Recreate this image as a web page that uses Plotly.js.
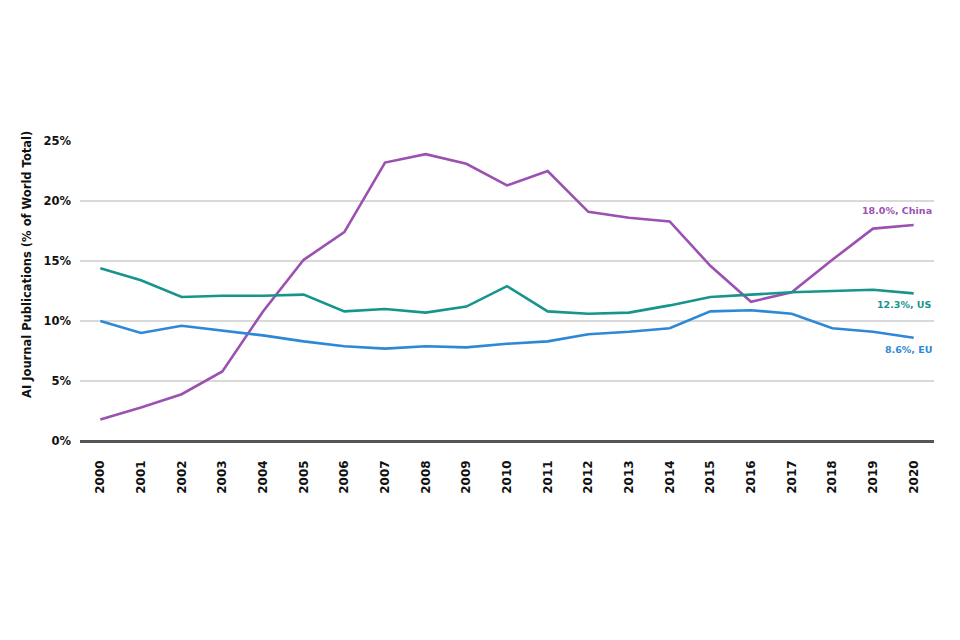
<!DOCTYPE html>
<html>
<head>
<meta charset="utf-8">
<script src="https://cdn.plot.ly/plotly-3.0.1.min.js"></script>
<style>html,body{margin:0;padding:0;background:#fff;}#chart{width:960px;height:640px;}</style>
</head>
<body>
<div id="chart"></div>
<script>
const years = ['2000','2001','2002','2003','2004','2005','2006','2007','2008','2009','2010','2011','2012','2013','2014','2015','2016','2017','2018','2019','2020'];
const china = [1.8, 2.8, 3.9, 5.8, 10.8, 15.1, 17.4, 23.2, 23.9, 23.1, 21.3, 22.5, 19.1, 18.6, 18.3, 14.6, 11.6, 12.4, 15.1, 17.7, 18.0];
const us    = [14.4, 13.4, 12.0, 12.1, 12.1, 12.2, 10.8, 11.0, 10.7, 11.2, 12.9, 10.8, 10.6, 10.7, 11.3, 12.0, 12.2, 12.4, 12.5, 12.6, 12.3];
const eu    = [10.0, 9.0, 9.6, 9.2, 8.8, 8.3, 7.9, 7.7, 7.9, 7.8, 8.1, 8.3, 8.9, 9.1, 9.4, 10.8, 10.9, 10.6, 9.4, 9.1, 8.6];
const yTicks = [0, 5, 10, 15, 20, 25];
const yTickText = ['0%', '5%', '10%', '15%', '20%', '25%'];
const yTitle = 'AI Journal Publications (% of World Total)';
const endLabels = ['18.0%, China', '12.3%, US', '8.6%, EU'];

const cChina = '#9c50b2', cUS = '#17958d', cEU = '#2d88d6';
const font = '"DejaVu Sans", Verdana, sans-serif';

const traces = [
  {x: years, y: china, type: 'scatter', mode: 'lines', line: {color: cChina, width: 2.6}, name: 'China'},
  {x: years, y: us, type: 'scatter', mode: 'lines', line: {color: cUS, width: 2.6}, name: 'US'},
  {x: years, y: eu, type: 'scatter', mode: 'lines', line: {color: cEU, width: 2.6}, name: 'EU'}
];

const layout = {
  width: 960, height: 640,
  margin: {l: 80, r: 26, t: 141, b: 199},
  paper_bgcolor: '#fff', plot_bgcolor: '#fff',
  showlegend: false,
  font: {family: font, color: '#222'},
  xaxis: {
    type: 'category', range: [-0.5, 20.5],
    tickangle: -90, showgrid: false, zeroline: false,
    showline: false, ticks: '',
    tickfont: {size: 12, color: '#111', family: font, weight: 'bold'},
    ticklabelstandoff: 16
  },
  yaxis: {
    range: [0, 25], tickvals: yTicks, ticktext: yTickText,
    showgrid: true, gridcolor: '#d9d9d9', gridwidth: 1.5,
    zeroline: true, zerolinecolor: '#555', zerolinewidth: 3,
    showline: false, ticks: '',
    tickfont: {size: 11.5, color: '#111', family: font, weight: 'bold'},
    ticklabelstandoff: 8
  },
  annotations: [
    {x: -0.062, xref: 'paper', y: 0.587, yref: 'paper', text: yTitle, textangle: -90, showarrow: false, xanchor: 'center', yanchor: 'middle', font: {size: 11.5, color: '#111', family: font, weight: 'bold'}},
    {x: 1, xref: 'paper', y: china[20] + 1.2, yref: 'y', text: endLabels[0], showarrow: false, xanchor: 'right', yanchor: 'middle', font: {size: 9.5, color: cChina, family: font, weight: 'bold'}},
    {x: 1, xref: 'paper', y: us[20] - 0.95, yref: 'y', text: endLabels[1], showarrow: false, xanchor: 'right', yanchor: 'middle', font: {size: 9.5, color: cUS, family: font, weight: 'bold'}},
    {x: 1, xref: 'paper', y: eu[20] - 0.95, yref: 'y', text: endLabels[2], showarrow: false, xanchor: 'right', yanchor: 'middle', font: {size: 9.5, color: cEU, family: font, weight: 'bold'}}
  ]
};

Plotly.newPlot('chart', traces, layout, {displayModeBar: false, staticPlot: true});
</script>
</body>
</html>
